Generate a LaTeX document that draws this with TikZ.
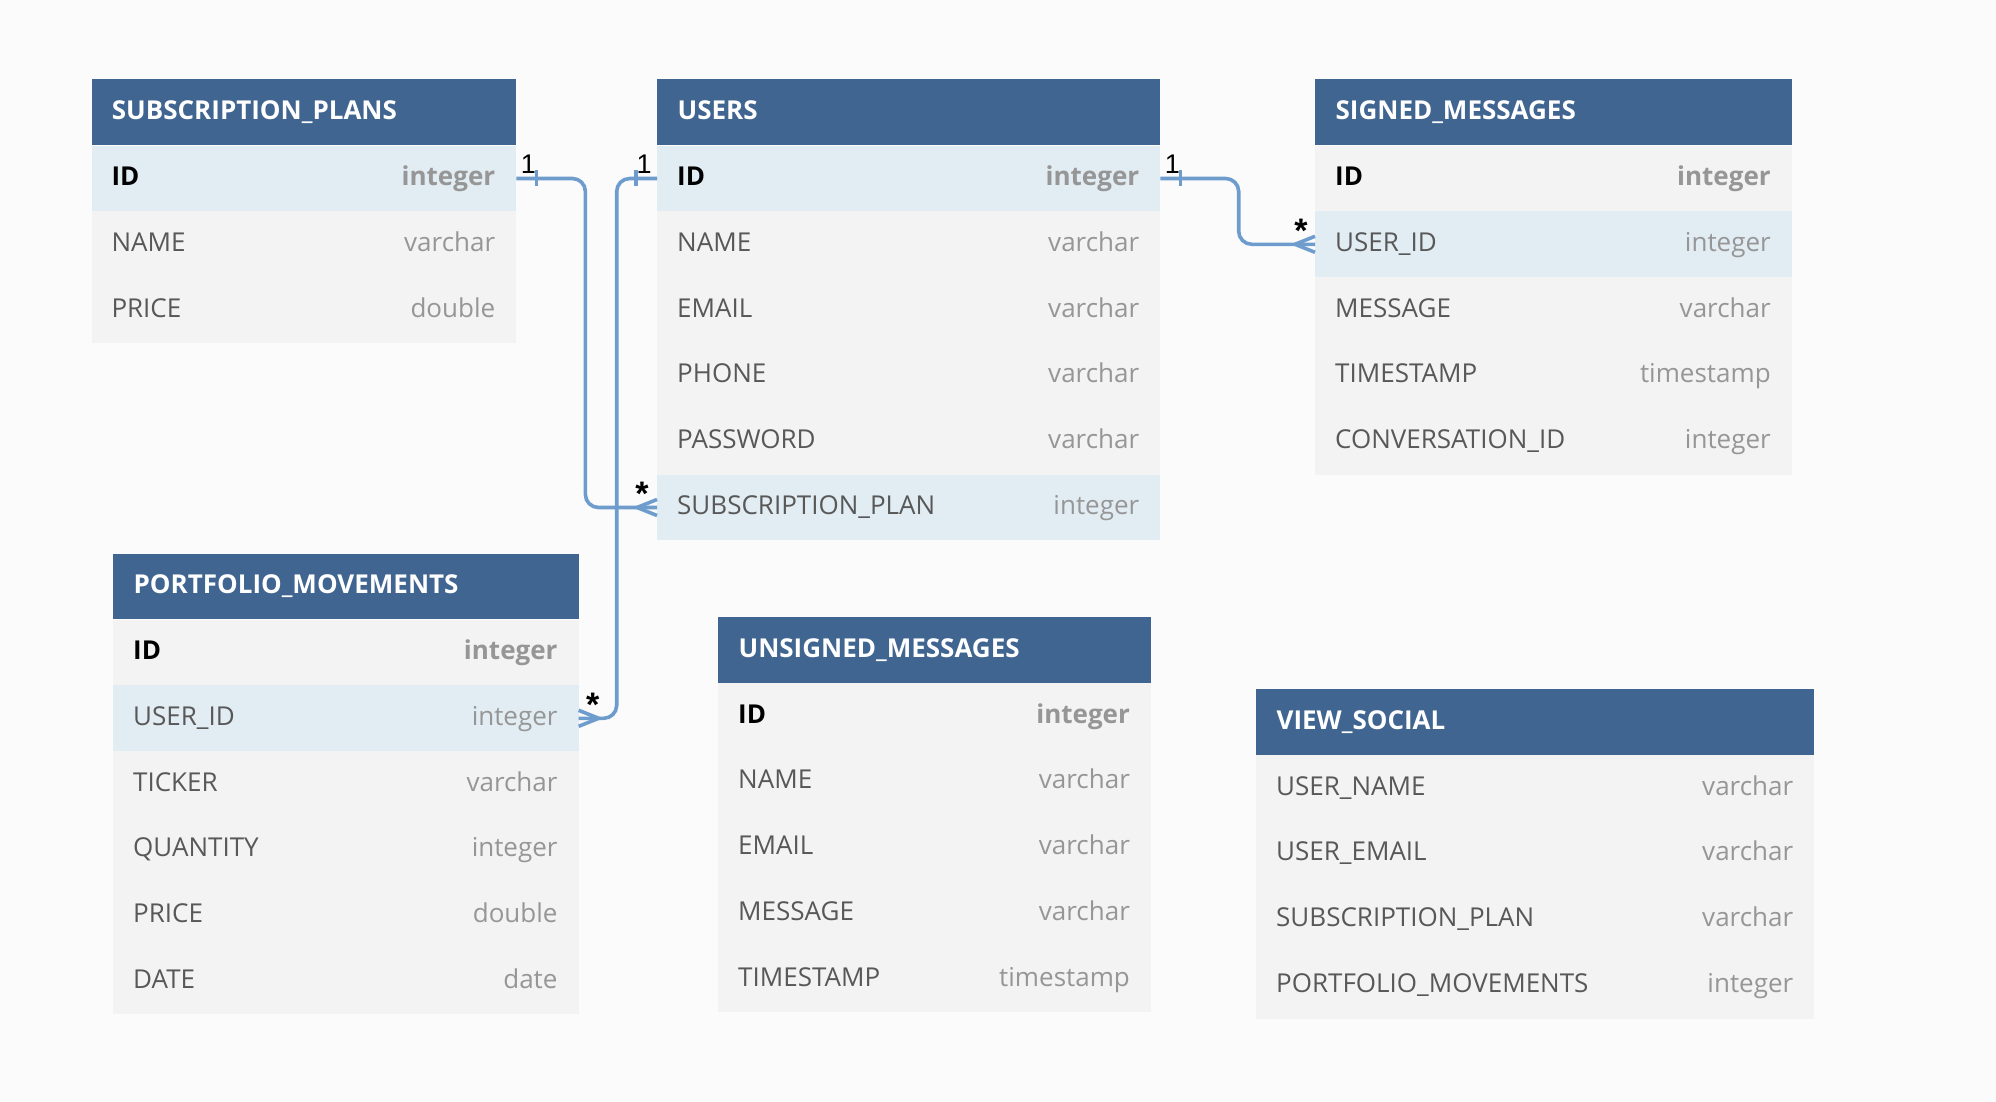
\documentclass[tikz,border=0pt]{standalone}
\usepackage{fontspec}
\setmainfont{Open Sans}
\newfontfamily\cardfont{Liberation Sans}
\usetikzlibrary{positioning,calc}
\definecolor{ErdHead}{HTML}{406590}
\definecolor{ErdRow}{HTML}{F3F3F3}
\definecolor{ErdKey}{HTML}{E2ECF3}
\definecolor{ErdLink}{HTML}{6D9CCD}
\definecolor{ErdName}{HTML}{585858}
\definecolor{ErdType}{HTML}{969696}
\definecolor{ErdPaper}{HTML}{FBFBFB}

\tikzset{
  tblhead/.style={fill=ErdHead, anchor=north west, minimum height=65.7pt, inner sep=0pt},
  tblrow/.style={anchor=north west, minimum height=65.8pt, inner sep=0pt},
  title/.style={anchor=base west, inner sep=0pt, text=white, font=\fontsize{26}{30}\selectfont\bfseries},
  plain/.style={text=ErdName, font=\fontsize{26}{30}\selectfont},
  bold/.style={text=black, font=\fontsize{26}{30}\selectfont\bfseries},
  fname/.style={anchor=base west, inner sep=0pt},
  ftype/.style={anchor=base east, inner sep=0pt, text=ErdType},
  rel/.style={draw=ErdLink, line width=3.6pt, rounded corners=13pt},
  card/.style={inner sep=0pt, text=black, font=\fontsize{27}{30}\selectfont\cardfont},
  many/.style={inner sep=0pt, text=black, font=\fontsize{34}{36}\selectfont\cardfont\bfseries},
}

\begin{document}
\begin{tikzpicture}[x=1pt,y=-1pt]
  \fill[ErdPaper] (0,0) rectangle (1996,1102);
  \useasboundingbox (0,0) rectangle (1996,1102);

  % SUBSCRIPTION_PLANS
  \node[tblhead, minimum width=424.7pt] (sub) at (91.3,79.3) {};
  \node[title] (sub-title) at ([xshift=20.4pt, yshift=-40pt]sub.north west) {SUBSCRIPTION\_PLANS};
  \foreach \fld/\typ/\bg/\wt [count=\i] in {ID/integer/ErdKey/bold, NAME/varchar/ErdRow/plain, PRICE/double/ErdRow/plain} {
    \node[tblrow, fill=\bg, minimum width=424.7pt] (sub-\i) at ([yshift={-(\i-1)*65.8pt}]sub.south west) {};
    \node[\wt, fname] (sub-\i-n) at ([xshift=20pt, yshift=-40pt]sub-\i.north west) {\fld};
    \node[\wt, ftype] (sub-\i-t) at ([xshift=-21pt, yshift=-40pt]sub-\i.north east) {\typ};
  }

  % USERS
  \node[tblhead, minimum width=503pt] (users) at (657,79.3) {};
  \node[title] (users-title) at ([xshift=20.4pt, yshift=-40pt]users.north west) {USERS};
  \foreach \fld/\typ/\bg/\wt [count=\i] in {ID/integer/ErdKey/bold, NAME/varchar/ErdRow/plain, EMAIL/varchar/ErdRow/plain, PHONE/varchar/ErdRow/plain, PASSWORD/varchar/ErdRow/plain, SUBSCRIPTION\_PLAN/integer/ErdKey/plain} {
    \node[tblrow, fill=\bg, minimum width=503pt] (users-\i) at ([yshift={-(\i-1)*65.8pt}]users.south west) {};
    \node[\wt, fname] (users-\i-n) at ([xshift=20pt, yshift=-40pt]users-\i.north west) {\fld};
    \node[\wt, ftype] (users-\i-t) at ([xshift=-21pt, yshift=-40pt]users-\i.north east) {\typ};
  }

  % SIGNED_MESSAGES
  \node[tblhead, minimum width=476.5pt] (signed) at (1315,79.3) {};
  \node[title] (signed-title) at ([xshift=20.4pt, yshift=-40pt]signed.north west) {SIGNED\_MESSAGES};
  \foreach \fld/\typ/\bg/\wt [count=\i] in {ID/integer/ErdRow/bold, USER\_ID/integer/ErdKey/plain, MESSAGE/varchar/ErdRow/plain, TIMESTAMP/timestamp/ErdRow/plain, CONVERSATION\_ID/integer/ErdRow/plain} {
    \node[tblrow, fill=\bg, minimum width=476.5pt] (signed-\i) at ([yshift={-(\i-1)*65.8pt}]signed.south west) {};
    \node[\wt, fname] (signed-\i-n) at ([xshift=20pt, yshift=-40pt]signed-\i.north west) {\fld};
    \node[\wt, ftype] (signed-\i-t) at ([xshift=-21pt, yshift=-40pt]signed-\i.north east) {\typ};
  }

  % PORTFOLIO_MOVEMENTS
  \node[tblhead, minimum width=465.3pt] (port) at (113,553.3) {};
  \node[title] (port-title) at ([xshift=20.4pt, yshift=-40pt]port.north west) {PORTFOLIO\_MOVEMENTS};
  \foreach \fld/\typ/\bg/\wt [count=\i] in {ID/integer/ErdRow/bold, USER\_ID/integer/ErdKey/plain, TICKER/varchar/ErdRow/plain, QUANTITY/integer/ErdRow/plain, PRICE/double/ErdRow/plain, DATE/date/ErdRow/plain} {
    \node[tblrow, fill=\bg, minimum width=465.3pt] (port-\i) at ([yshift={-(\i-1)*65.8pt}]port.south west) {};
    \node[\wt, fname] (port-\i-n) at ([xshift=20pt, yshift=-40pt]port-\i.north west) {\fld};
    \node[\wt, ftype] (port-\i-t) at ([xshift=-21pt, yshift=-40pt]port-\i.north east) {\typ};
  }

  % UNSIGNED_MESSAGES
  \node[tblhead, minimum width=432.7pt] (unsigned) at (718,617) {};
  \node[title] (unsigned-title) at ([xshift=20.4pt, yshift=-40pt]unsigned.north west) {UNSIGNED\_MESSAGES};
  \foreach \fld/\typ/\bg/\wt [count=\i] in {ID/integer/ErdRow/bold, NAME/varchar/ErdRow/plain, EMAIL/varchar/ErdRow/plain, MESSAGE/varchar/ErdRow/plain, TIMESTAMP/timestamp/ErdRow/plain} {
    \node[tblrow, fill=\bg, minimum width=432.7pt] (unsigned-\i) at ([yshift={-(\i-1)*65.8pt}]unsigned.south west) {};
    \node[\wt, fname] (unsigned-\i-n) at ([xshift=20pt, yshift=-40pt]unsigned-\i.north west) {\fld};
    \node[\wt, ftype] (unsigned-\i-t) at ([xshift=-21pt, yshift=-40pt]unsigned-\i.north east) {\typ};
  }

  % VIEW_SOCIAL
  \node[tblhead, minimum width=558pt] (view) at (1256,689) {};
  \node[title] (view-title) at ([xshift=20.4pt, yshift=-40pt]view.north west) {VIEW\_SOCIAL};
  \foreach \fld/\typ/\bg/\wt [count=\i] in {USER\_NAME/varchar/ErdRow/plain, USER\_EMAIL/varchar/ErdRow/plain, SUBSCRIPTION\_PLAN/varchar/ErdRow/plain, PORTFOLIO\_MOVEMENTS/integer/ErdRow/plain} {
    \node[tblrow, fill=\bg, minimum width=558pt] (view-\i) at ([yshift={-(\i-1)*65.8pt}]view.south west) {};
    \node[\wt, fname] (view-\i-n) at ([xshift=20pt, yshift=-40pt]view-\i.north west) {\fld};
    \node[\wt, ftype] (view-\i-t) at ([xshift=-21pt, yshift=-40pt]view-\i.north east) {\typ};
  }

  % subscription plan of a user
  \draw[rel] (sub-1.east) -- ++(69,0) |- (users-6.west);
  \draw[rel] ([xshift=20pt, yshift=8pt]sub-1.east) -- ([xshift=20pt, yshift=-8pt]sub-1.east);
  \draw[rel, sharp corners] ([yshift=8pt]users-6.west) -- ([xshift=-20pt]users-6.west) -- ([yshift=-8pt]users-6.west);
  \node[card, anchor=south] (one-sub) at ([xshift=12pt, yshift=5pt]sub-1.east) {1};
  \node[many] (many-sub) at ([xshift=-15pt, yshift=13.5pt]users-6.west) {*};

  % movements of a user
  \draw[rel] (users-1.west) -- ++(-40.3,0) |- (port-2.east);
  \draw[rel] ([xshift=-21pt, yshift=8pt]users-1.west) -- ([xshift=-21pt, yshift=-8pt]users-1.west);
  \draw[rel, sharp corners] ([yshift=8pt]port-2.east) -- ([xshift=20pt]port-2.east) -- ([yshift=-8pt]port-2.east);
  \node[card, anchor=south] (one-port) at ([xshift=-13pt, yshift=5pt]users-1.west) {1};
  \node[many] (many-port) at ([xshift=14pt, yshift=13.5pt]port-2.east) {*};

  % signed messages of a user
  \draw[rel] (users-1.east) -- ++(78.3,0) |- (signed-2.west);
  \draw[rel] ([xshift=20pt, yshift=8pt]users-1.east) -- ([xshift=20pt, yshift=-8pt]users-1.east);
  \draw[rel, sharp corners] ([yshift=8pt]signed-2.west) -- ([xshift=-20pt]signed-2.west) -- ([yshift=-8pt]signed-2.west);
  \node[card, anchor=south] (one-signed) at ([xshift=12pt, yshift=5pt]users-1.east) {1};
  \node[many] (many-signed) at ([xshift=-14pt, yshift=13.5pt]signed-2.west) {*};
\end{tikzpicture}
\end{document}
